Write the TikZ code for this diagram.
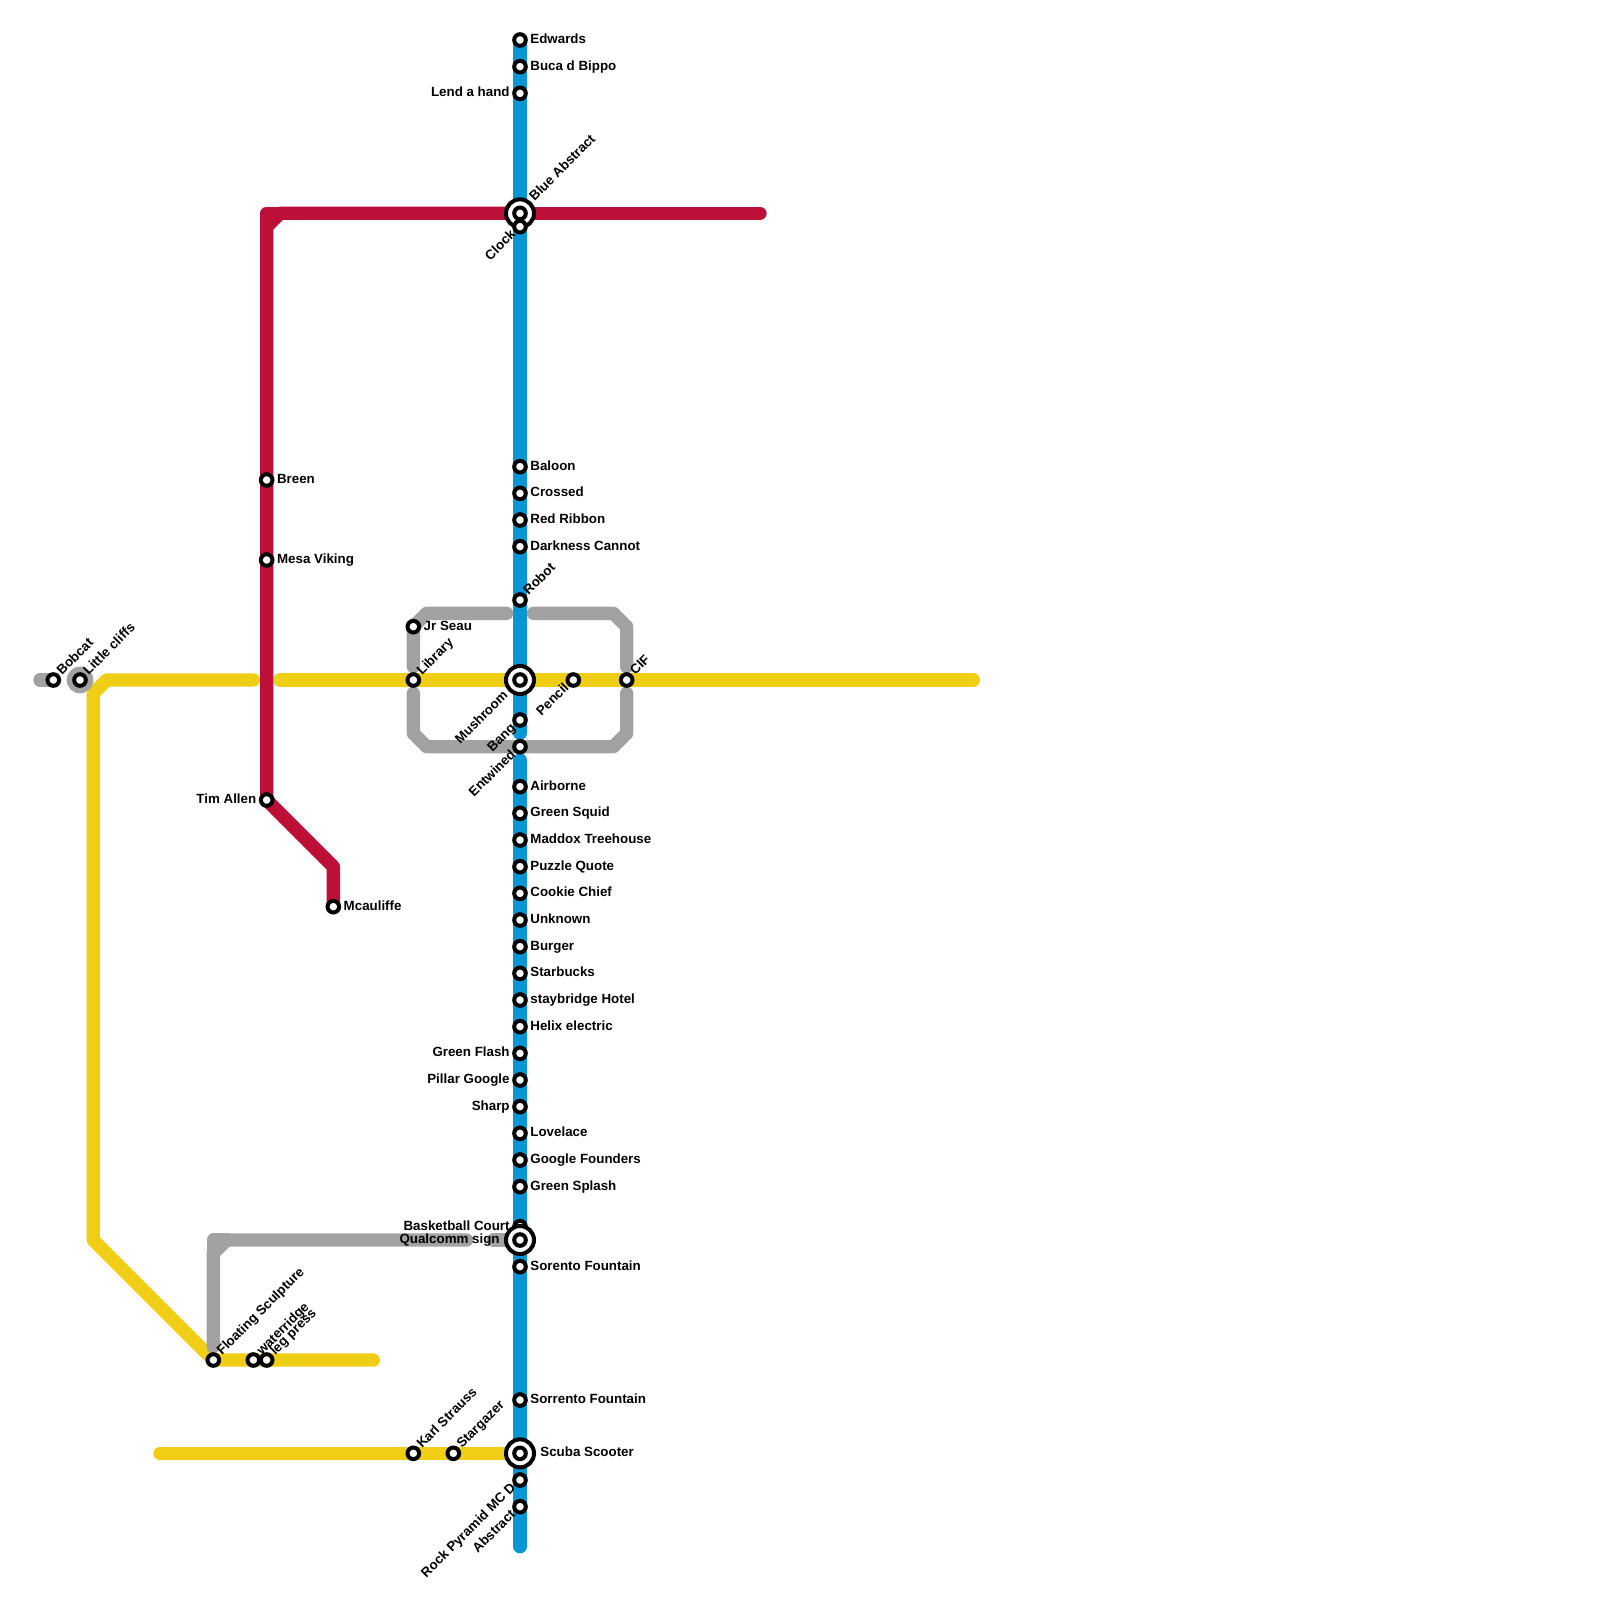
\documentclass[tikz,border=0pt]{standalone}
\usepackage{fontspec}
\setmainfont{Liberation Sans}
\definecolor{lblue}{HTML}{0896D7}
\definecolor{lred}{HTML}{BD1038}
\definecolor{lyellow}{HTML}{F0CE15}
\definecolor{lgray}{HTML}{A2A2A2}
\tikzset{
 route/.style={line width=6.667pt,line cap=round,line join=round},
 stn/.style={circle,draw=black,fill=white,line width=2pt,minimum size=5.8pt,inner sep=0pt},
 hub/.style={circle,draw=black,fill=white,line width=2pt,minimum size=14pt,inner sep=0pt},
 halo/.style={circle,fill=lgray,minimum size=13.33pt,inner sep=0pt},
 lab/.style={font=\bfseries\fontsize{6.67pt}{8pt}\selectfont,inner sep=0pt,text=black,text height=4.8pt,text depth=1.4pt},
 labr/.style={lab,anchor=west},
 labl/.style={lab,anchor=east},
 labu/.style={lab,anchor=west,rotate=45},
 labd/.style={lab,anchor=east,rotate=45},
}
\newcommand{\mkR}[3]{\node[stn] (#1) at (#2) {}; \node[labr] (#1t) at ($(#1)+(10,0)$) {#3};}
\newcommand{\mkL}[3]{\node[stn] (#1) at (#2) {}; \node[labl] (#1t) at ($(#1)+(-10,0)$) {#3};}
\newcommand{\mkU}[3]{\node[stn] (#1) at (#2) {}; \node[labu] (#1t) at ($(#1)+(6,-6.5)$) {#3};}
\newcommand{\mkD}[3]{\node[stn] (#1) at (#2) {}; \node[labd] (#1t) at ($(#1)+(-6,6)$) {#3};}
\usetikzlibrary{calc}
\begin{document}
\begin{tikzpicture}[x=0.5pt,y=-0.5pt]
\useasboundingbox (0,0) rectangle (1600,1600);
\fill[white] (0,0) rectangle (1600,1600);
% blue points
\coordinate (edw) at (520,40);
\coordinate (b1) at (520,733.33);
\coordinate (b2) at (520,760);
\coordinate (b3) at (520,1546.67);
\draw[route,lblue] (edw)--(b1);
\draw[route,lblue] (b2)--(b3);
% red
\coordinate (tim) at (266.67,800);
\coordinate (r1) at (266.67,226.67);
\coordinate (r2) at (280,213.33);
\coordinate (r0) at (266.67,213.33);
\coordinate (r3) at (506.67,213.33);
\coordinate (r4) at (533.33,213.33);
\coordinate (r5) at (760,213.33);
\coordinate (r6) at (333.33,866.67);
\coordinate (mca) at (333.33,906.67);
\draw[route,lred] (tim)--(r1)--(r2)--(r3);
\draw[route,lred] (r1)--(r0)--(r2);
\draw[route,lred] (r4)--(r5);
\draw[route,lred] (tim)--(r6)--(mca);
% yellow
\coordinate (y1) at (253.33,680);
\coordinate (y2) at (106.67,680);
\coordinate (y3) at (93.33,693.33);
\coordinate (y4) at (93.33,1240);
\coordinate (flo) at (213.33,1360);
\coordinate (y5) at (373.33,1360);
\coordinate (y6) at (280,680);
\coordinate (y7) at (506.67,680);
\coordinate (y8) at (533.33,680);
\coordinate (y9) at (973.33,680);
\coordinate (y10) at (160,1453.33);
\coordinate (y11) at (506.67,1453.33);
\draw[route,lyellow] (y1)--(y2)--(y3)--(y4)--(flo)--(y5);
\draw[route,lyellow] (y6)--(y7);
\draw[route,lyellow] (y8)--(y9);
\draw[route,lyellow] (y10)--(y11);
% gray
\coordinate (g1) at (40,680);
\coordinate (bob) at (53.33,680);
\draw[route,lgray] (g1)--(bob);
\coordinate (jr) at (413.33,626.67);
\coordinate (g2) at (413.33,666.67);
\coordinate (g3) at (426.67,613.33);
\coordinate (g4) at (506.67,613.33);
\coordinate (g5) at (533.33,613.33);
\coordinate (g6) at (613.33,613.33);
\coordinate (g7) at (626.67,626.67);
\coordinate (g8) at (626.67,666.67);
\coordinate (g9) at (626.67,693.33);
\coordinate (g10) at (626.67,733.33);
\coordinate (g11) at (613.33,746.67);
\coordinate (g12) at (426.67,746.67);
\coordinate (g13) at (413.33,733.33);
\coordinate (g14) at (413.33,693.33);
\draw[route,lgray] (g2)--(jr)--(g3)--(g4);
\draw[route,lgray] (g5)--(g6)--(g7)--(g8);
\draw[route,lgray] (g9)--(g10)--(g11)--(g12)--(g13)--(g14);
\coordinate (g15) at (213.33,1346.67);
\coordinate (g16) at (213.33,1253.33);
\coordinate (g17) at (226.67,1240);
\coordinate (g18) at (213.33,1240);
\coordinate (g19) at (466.67,1240);
\coordinate (g20) at (493.33,1240);
\coordinate (g21) at (506.67,1240);
\draw[route,lgray] (g15)--(g16)--(g17)--(g19);
\draw[route,lgray] (g16)--(g18)--(g17);
\draw[route,lgray] (g20)--(g21);
% halo
\node[halo] (lch) at (80,680) {};
% hubs
\node[hub] (hbasket0) at (520,213.33) {};
\node[hub] (hmush) at (520,680) {};
% stations: blue
\mkR{a1}{520,40}{Edwards}
\mkR{a2}{520,66.67}{Buca d Bippo}
\mkL{a3}{520,93.33}{Lend a hand}
\node[stn] (a4) at (520,213.33) {};
\node[labu] (a4t) at ($(a4)+(12,-14)$) {Blue Abstract};
\mkD{a5}{520,226.67}{Clock}
\mkR{a6}{520,466.67}{Baloon}
\mkR{a7}{520,493.33}{Crossed}
\mkR{a8}{520,520}{Red Ribbon}
\mkR{a9}{520,546.67}{Darkness Cannot}
\mkU{a10}{520,600}{Robot}
\node[stn] (a11) at (520,680) {};
\node[labd] (a11t) at ($(a11)+(-13.5,13.5)$) {Mushroom};
\mkD{a12}{520,720}{Bang}
\mkD{a13}{520,746.67}{Entwined}
\mkR{a14}{520,786.67}{Airborne}
\mkR{a15}{520,813.33}{Green Squid}
\mkR{a16}{520,840}{Maddox Treehouse}
\mkR{a17}{520,866.67}{Puzzle Quote}
\mkR{a18}{520,893.33}{Cookie Chief}
\mkR{a19}{520,920}{Unknown}
\mkR{a20}{520,946.67}{Burger}
\mkR{a21}{520,973.33}{Starbucks}
\mkR{a22}{520,1000}{staybridge Hotel}
\mkR{a23}{520,1026.67}{Helix electric}
\mkL{a24}{520,1053.33}{Green Flash}
\mkL{a25}{520,1080}{Pillar Google}
\mkL{a26}{520,1106.67}{Sharp}
\mkR{a27}{520,1133.33}{Lovelace}
\mkR{a28}{520,1160}{Google Founders}
\mkR{a29}{520,1186.67}{Green Splash}
\mkL{a30}{520,1226.67}{Basketball Court}
\node[hub] (hqual) at (520,1240) {};
\node[stn] (a31) at (520,1240) {};
\node[labl] (a31t) at ($(a31)+(-20,0)$) {Qualcomm sign};
\mkR{a32}{520,1266.67}{Sorento Fountain}
\mkR{a33}{520,1400}{Sorrento Fountain}
\node[hub] (hscuba) at (520,1453.33) {};
\node[stn] (a34) at (520,1453.33) {};
\node[labr] (a34t) at ($(a34)+(20,0)$) {Scuba Scooter};
\mkD{a35}{520,1480}{Rock Pyramid MC D}
\mkD{a36}{520,1506.67}{Abstract}
% red stations
\mkR{c1}{266.67,480}{Breen}
\mkR{c2}{266.67,560}{Mesa Viking}
\mkL{c3}{tim}{Tim Allen}
\mkR{c4}{mca}{Mcauliffe}
% others
\mkU{d1}{bob}{Bobcat}
\mkU{d2}{80,680}{Little cliffs}
\mkR{d3}{jr}{Jr Seau}
\mkU{d4}{413.33,680}{Library}
\mkD{d5}{573.33,680}{Pencil}
\mkU{d6}{626.67,680}{CIF}
\mkU{d7}{flo}{Floating Sculpture}
\mkU{d8}{253.33,1360}{waterridge}
\mkU{d9}{266.67,1360}{leg press}
\mkU{d10}{413.33,1453.33}{Karl Strauss}
\mkU{d11}{453.33,1453.33}{Stargazer}
\end{tikzpicture}
\end{document}
